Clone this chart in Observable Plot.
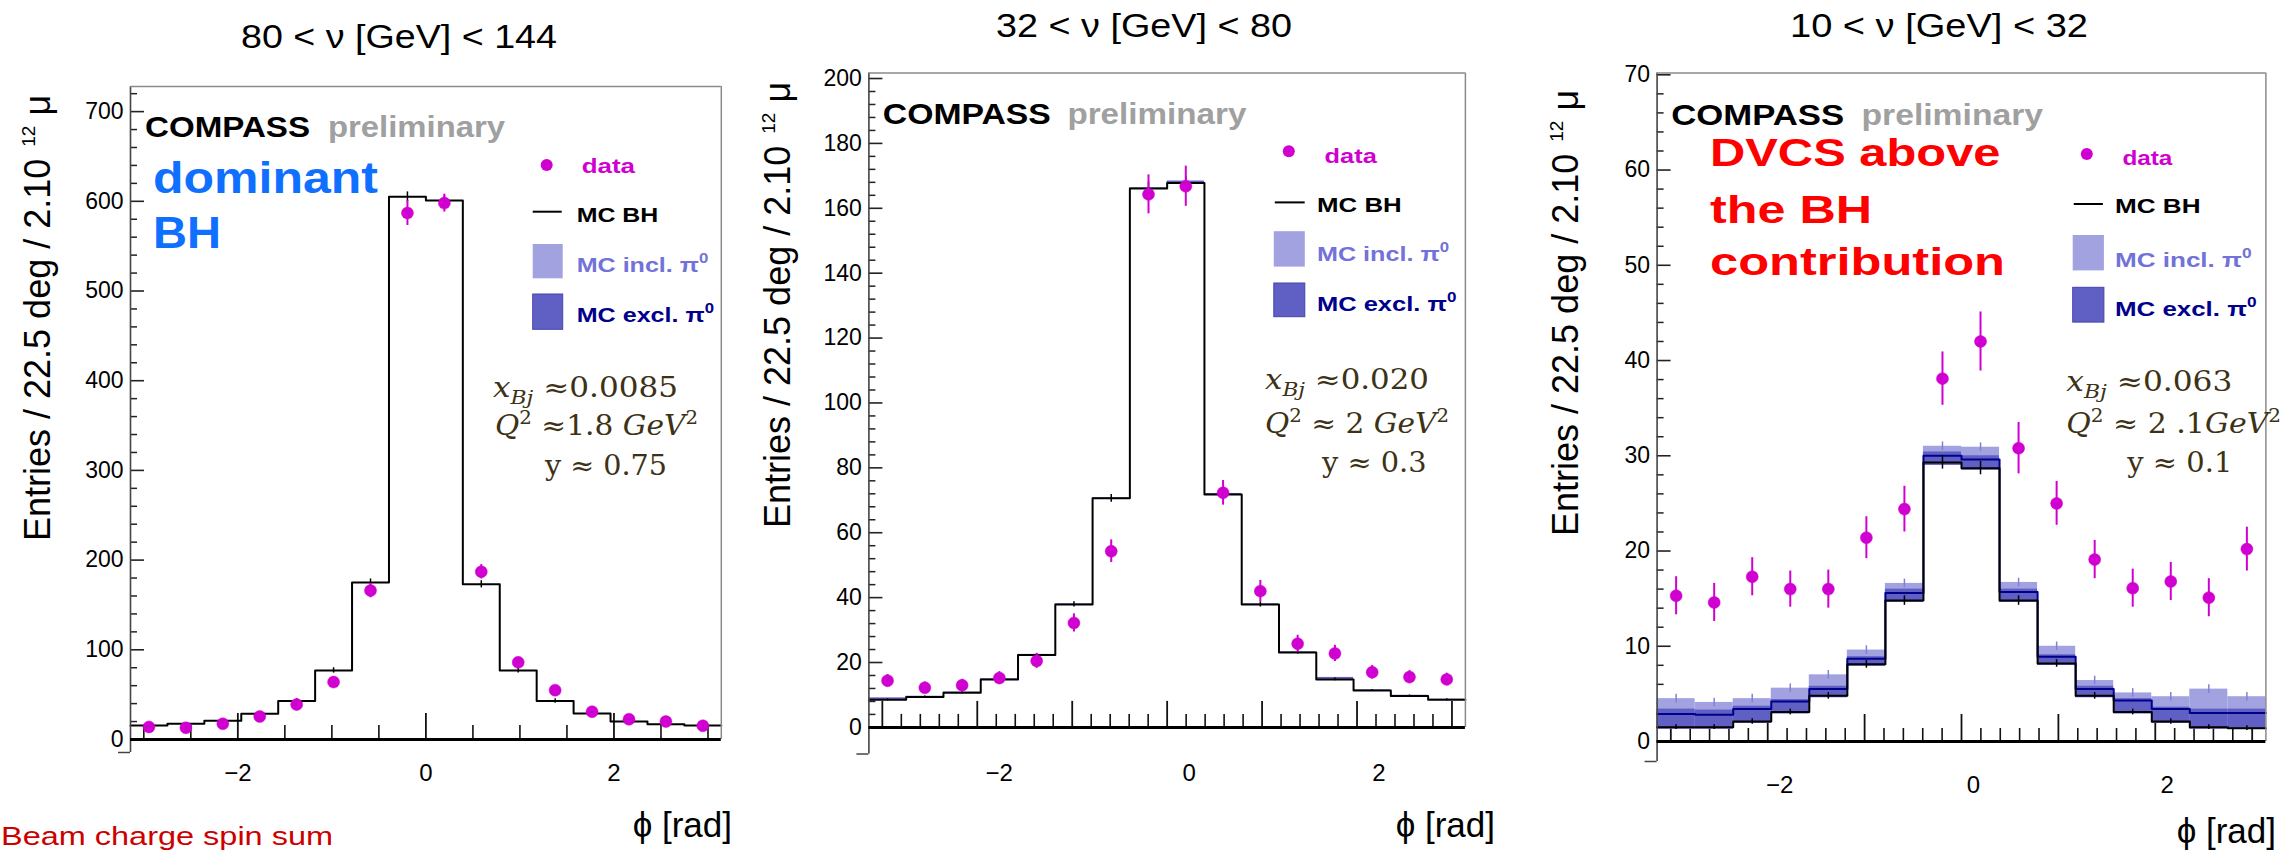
<!DOCTYPE html>
<html>
<head>
<meta charset="utf-8">
<script src="https://cdn.jsdelivr.net/npm/d3@7"></script>
<script src="https://cdn.jsdelivr.net/npm/@observablehq/plot@0.6"></script>
<style>
  html, body { margin: 0; padding: 0; background: #fff; width: 2285px; height: 853px; overflow: hidden; }
  #page { position: relative; width: 2285px; height: 853px; }
  .panel { position: absolute; top: 0; }
  #overlay { position: absolute; left: 0; top: 0; pointer-events: none; font-family: 'Liberation Sans', Arial, sans-serif; }
  .kin { font-family: 'DejaVu Serif', 'Liberation Serif', serif; font-size: 27px; fill: #3d3215; }
  .leg { font-weight: bold; font-size: 21px; }
</style>
</head>
<body>
<div id="page"></div>
<script>
const PI = Math.PI;
// 16 bins of 22.5 deg covering -pi .. pi
const phiEdges = d3.range(17).map(i => -PI + i * PI / 8);

// ---------- Panel 1 : 80 < nu < 144 ----------
const bh1    = [15.6, 17.5, 21, 28.6, 43, 77, 175, 605, 601, 173, 77, 43, 29, 20, 17, 15.5];
const mcErr1 = [1.5, 1.5, 1.5, 2, 2.5, 3, 4, 5.5, 5.5, 4, 3, 2.5, 2, 1.5, 1.5, 1.5];
const data1  = [14, 13, 17.5, 25.6, 39, 64, 166, 587, 598, 187, 86, 55, 31, 22.6, 20, 15.3];
const err1   = [3, 3, 3, 3.5, 4, 5, 8, 14, 10, 8, 5, 4, 3.5, 3, 3, 3];

// ---------- Panel 2 : 32 < nu < 80 ----------
const bh2     = [8.5, 9.4, 10.7, 14.8, 22.3, 37.9, 70.6, 166.1, 167.8, 71.8, 37.9, 23.1, 14.8, 11.4, 9.7, 8.5];
const exclHi2 = [9.1, 9.6, 10.9, 15.0, 22.5, 38.1, 70.8, 166.3, 168.4, 72.1, 38.1, 23.3, 15.4, 11.6, 9.9, 8.7];
const mcErr2  = [0.3, 0.3, 0.3, 0.4, 0.5, 0.8, 1.2, 2, 2, 1.2, 0.8, 0.5, 0.4, 0.3, 0.3, 0.3];
const data2   = [14.4, 12.2, 13, 15.2, 20.5, 32.2, 54.3, 164.3, 166.8, 72.3, 42, 25.8, 22.8, 17, 15.5, 14.8];
const err2    = [1.9, 1.8, 1.8, 2, 2.3, 2.8, 3.5, 6, 6.2, 3.8, 3.3, 2.6, 2.5, 2.1, 2, 1.9];

// ---------- Panel 3 : 10 < nu < 32 ----------
const bh3      = [1.5, 1.5, 2.1, 3.1, 4.8, 8.1, 14.8, 29.3, 28.7, 14.8, 8.2, 4.8, 3.1, 2.1, 1.5, 1.4];
const exclLo3  = [1.3, 1.3, 1.9, 2.9, 4.6, 7.9, 14.6, 29.0, 28.5, 14.6, 8.0, 4.6, 2.9, 1.9, 1.3, 1.3];
const exclHi3  = [3.4, 3.3, 3.7, 4.4, 5.8, 8.9, 16.0, 30.4, 30.0, 16.0, 9.1, 5.8, 4.5, 3.6, 3.4, 3.4];
const exclMid3 = [2.9, 2.8, 3.4, 4.2, 5.5, 8.7, 15.6, 30.0, 29.6, 15.7, 8.9, 5.5, 4.3, 3.4, 3.0, 3.0];
const inclHi3  = [4.5, 4.1, 4.5, 5.6, 7.0, 9.6, 16.6, 31.0, 30.9, 16.7, 10.0, 6.4, 5.1, 4.7, 5.5, 4.7];
const mcErr3   = [0.25, 0.25, 0.3, 0.3, 0.35, 0.4, 0.5, 0.7, 0.7, 0.5, 0.4, 0.35, 0.3, 0.3, 0.25, 0.25];
const data3    = [15.3, 14.6, 17.3, 16.0, 16.0, 21.4, 24.4, 38.1, 42.0, 30.8, 25.0, 19.1, 16.1, 16.8, 15.1, 20.2];
const err3     = [2.0, 2.0, 2.0, 1.9, 2.0, 2.2, 2.4, 2.8, 3.1, 2.7, 2.3, 2.0, 2.0, 2.0, 2.0, 2.3];

// tick labels
const xLabelTicks = [-2, 0, 2];
const yTicks1 = [0, 100, 200, 300, 400, 500, 600, 700];
const yTicks2 = [0, 20, 40, 60, 80, 100, 120, 140, 160, 180, 200];
const yTicks3 = [0, 10, 20, 30, 40, 50, 60, 70];

const MAGENTA = "#d000d0";
const LIGHT = "#a2a2e0";
const DARK = "#5f5fc4";
const NAVY = "#00008c";

const fmtX = d => (d < 0 ? "\u2212" : "") + Math.abs(d);

function minorTicks(max, step, majors) {
  return d3.range(0, Math.round(max / step) + 1).map(i => +(i * step).toFixed(4))
    .filter(v => v <= max && !majors.includes(v));
}

function makePanel(cfg) {
  const bins = d3.range(16).map(i => ({
    x1: phiEdges[i], x2: phiEdges[i + 1], xc: (phiEdges[i] + phiEdges[i + 1]) / 2,
    bh: cfg.bh[i], mcErr: cfg.mcErr[i], data: cfg.data[i], err: cfg.err[i],
    exclLo: cfg.exclLo ? cfg.exclLo[i] : null,
    exclHi: cfg.exclHi ? cfg.exclHi[i] : null,
    exclMid: cfg.exclMid ? cfg.exclMid[i] : null,
    inclHi: cfg.inclHi ? cfg.inclHi[i] : null
  }));
  const step = arr => [...arr.map((v, i) => ({x: phiEdges[i], y: v})), {x: phiEdges[16], y: arr[15]}];
  const plotW = cfg.frameR - cfg.frameL;
  const plotH = cfg.frameB - cfg.frameT;
  const zeroFromBottom = plotH * (0 - cfg.ymin) / (cfg.ymax - cfg.ymin);
  const yMinor = minorTicks(cfg.ymax, cfg.yMinorStep, cfg.yTicks);
  const xMinor = cfg.xMinor.filter(v => !cfg.xMajor.includes(v));

  const marks = [
    Plot.tickX(xMinor, {x: d => d, insetBottom: zeroFromBottom, insetTop: plotH - zeroFromBottom - cfg.minorLen, stroke: "#111", strokeWidth: 1.6}),
    Plot.tickX(cfg.xMajor, {x: d => d, insetBottom: zeroFromBottom, insetTop: plotH - zeroFromBottom - cfg.majorLen, stroke: "#111", strokeWidth: 1.8}),
    Plot.tickY(yMinor, {y: d => d, insetRight: plotW - 7, stroke: "#222", strokeWidth: 1.5}),
    Plot.tickY(cfg.yTicks, {y: d => d, insetRight: plotW - 14, stroke: "#222", strokeWidth: 1.6}),
    Plot.tickY([cfg.ymin], {y: d => d, insetLeft: -12, insetRight: plotW, stroke: "#444", strokeWidth: 1.5})
  ];
  if (cfg.inclHi) marks.push(Plot.rect(bins, {x1: "x1", x2: "x2", y1: d => d.exclLo ?? d.bh, y2: "inclHi", fill: LIGHT}));
  if (cfg.exclHi) marks.push(Plot.rect(bins, {x1: "x1", x2: "x2", y1: d => d.exclLo ?? d.bh, y2: "exclHi", fill: DARK}));
  if (cfg.inclHi) marks.push(Plot.ruleX(bins, {x: "xc", y1: d => d.inclHi - 0.45, y2: d => d.inclHi + 0.45, stroke: "#8080d8", strokeWidth: 1.5}));
  if (cfg.exclMid) marks.push(Plot.line(step(cfg.exclMid), {x: "x", y: "y", curve: "step-after", stroke: NAVY, strokeWidth: 2}));
  marks.push(
    Plot.line(step(cfg.bh), {x: "x", y: "y", curve: "step-after", stroke: "#000", strokeWidth: 2}),
    Plot.ruleX(bins, {x: "xc", y1: d => d.bh - d.mcErr, y2: d => d.bh + d.mcErr, stroke: "#000", strokeWidth: 1.5}),
    Plot.ruleX([-PI], {stroke: "#444", strokeWidth: 1.6}),
    Plot.ruleX([PI], {y1: 0, y2: cfg.ymax, stroke: "#8a8a8a", strokeWidth: 1.5}),
    Plot.ruleY([cfg.ymax], {stroke: "#8a8a8a", strokeWidth: 1.5}),
    Plot.ruleY([0], {stroke: "#000", strokeWidth: 3}),
    Plot.ruleX(bins, {x: "xc", y1: d => d.data - d.err, y2: d => d.data + d.err, stroke: MAGENTA, strokeWidth: 2}),
    Plot.dot(bins, {x: "xc", y: "data", r: 6, fill: MAGENTA, stroke: MAGENTA, strokeWidth: 0.5}),
    Plot.axisY({ticks: cfg.yTicks, tickSize: 0, tickPadding: 7, label: null, fontSize: 23, tickFormat: d => String(d)}),
    Plot.axisX({ticks: xLabelTicks, tickSize: 0, tickPadding: cfg.labelPad, dx: cfg.labelDx, label: null, fontSize: 24, tickFormat: fmtX})
  );

  const svg = Plot.plot({
    width: cfg.width,
    height: 853,
    marginLeft: cfg.frameL - cfg.left,
    marginRight: cfg.left + cfg.width - cfg.frameR,
    marginTop: cfg.frameT,
    marginBottom: 853 - cfg.frameB,
    x: {domain: [-PI, PI], label: null},
    y: {domain: [cfg.ymin, cfg.ymax], label: null},
    style: {fontFamily: "'Liberation Sans', Arial, sans-serif", fontSize: "23px", color: "#000", maxWidth: "none", overflow: "visible", background: "transparent"},
    marks
  });
  const div = document.createElement("div");
  div.className = "panel";
  div.style.left = cfg.left + "px";
  div.appendChild(svg);
  document.getElementById("page").appendChild(div);
}

makePanel({left: 0, width: 760, frameL: 130, frameR: 720.8, frameT: 86, frameB: 752, ymin: -14.5, ymax: 728,
  yTicks: yTicks1, yMinorStep: 20, xMajor: [-2, 0, 2], xMinor: d3.range(-6, 7).map(i => i / 2),
  majorLen: 26, minorLen: 14, labelPad: 11.6, labelDx: 0,
  bh: bh1, mcErr: mcErr1, data: data1, err: err1});

makePanel({left: 760, width: 760, frameL: 868.4, frameR: 1464.9, frameT: 72.5, frameB: 753.5, ymin: -8.2, ymax: 201.7,
  yTicks: yTicks2, yMinorStep: 4, xMajor: [-3, -2, -1, 0, 1, 2, 3], xMinor: d3.range(-15, 16).map(i => i / 5),
  majorLen: 26, minorLen: 13, labelPad: 9.6, labelDx: 22,
  bh: bh2, mcErr: mcErr2, data: data2, err: err2, exclHi: exclHi2});

makePanel({left: 1520, width: 765, frameL: 1656.6, frameR: 2265.4, frameT: 72.4, frameB: 761, ymin: -2.1, ymax: 70.2,
  yTicks: yTicks3, yMinorStep: 2, xMajor: [-3, -2, -1, 0, 1, 2, 3], xMinor: d3.range(-15, 16).map(i => i / 5),
  majorLen: 27, minorLen: 13, labelPad: 14.1, labelDx: 12,
  bh: bh3, mcErr: mcErr3, data: data3, err: err3, exclLo: exclLo3, exclHi: exclHi3, exclMid: exclMid3, inclHi: inclHi3});

// ---------- overlay text (titles, labels, legends, annotations) ----------
const overlay = `
<svg id="overlay" width="2285" height="853" xmlns="http://www.w3.org/2000/svg">
  <g font-size="32.5">
    <text x="241" y="48" textLength="316" lengthAdjust="spacingAndGlyphs">80 &lt; ν [GeV] &lt; 144</text>
    <text x="996" y="37" textLength="296" lengthAdjust="spacingAndGlyphs">32 &lt; ν [GeV] &lt; 80</text>
    <text x="1790" y="37" textLength="298" lengthAdjust="spacingAndGlyphs">10 &lt; ν [GeV] &lt; 32</text>
  </g>

  <g font-size="36">
    <text transform="translate(50,541) rotate(-90)">Entries / 22.5 deg / 2.10<tspan font-size="19" dx="12" dy="-15">12</tspan><tspan dx="10" dy="15">μ</tspan></text>
    <text transform="translate(790,528) rotate(-90)">Entries / 22.5 deg / 2.10<tspan font-size="19" dx="12" dy="-15">12</tspan><tspan dx="10" dy="15">μ</tspan></text>
    <text transform="translate(1578,536) rotate(-90)">Entries / 22.5 deg / 2.10<tspan font-size="19" dx="12" dy="-15">12</tspan><tspan dx="10" dy="15">μ</tspan></text>
  </g>

  <g font-size="35" text-anchor="end">
    <text x="732" y="837">ϕ [rad]</text>
    <text x="1495" y="837">ϕ [rad]</text>
    <text x="2276" y="843">ϕ [rad]</text>
  </g>

  <g font-weight="bold" font-size="29.5">
    <text x="145" y="136.7" textLength="165" lengthAdjust="spacingAndGlyphs">COMPASS</text>
    <text x="328" y="136.7" textLength="177" lengthAdjust="spacingAndGlyphs" fill="#a0a0a0">preliminary</text>
    <text x="882.8" y="124" textLength="168" lengthAdjust="spacingAndGlyphs">COMPASS</text>
    <text x="1067.4" y="124" textLength="179" lengthAdjust="spacingAndGlyphs" fill="#a0a0a0">preliminary</text>
    <text x="1671.2" y="125" textLength="173" lengthAdjust="spacingAndGlyphs">COMPASS</text>
    <text x="1861.5" y="125" textLength="181.5" lengthAdjust="spacingAndGlyphs" fill="#a0a0a0">preliminary</text>
  </g>

  <g font-weight="bold" font-size="44" fill="#0f6fff">
    <text x="153" y="193.3" textLength="225" lengthAdjust="spacingAndGlyphs">dominant</text>
    <text x="153" y="248.3" textLength="68" lengthAdjust="spacingAndGlyphs">BH</text>
  </g>
  <g font-weight="bold" font-size="38" fill="#ff0000">
    <text x="1710" y="166" textLength="290.5" lengthAdjust="spacingAndGlyphs">DVCS above</text>
    <text x="1710" y="223" textLength="162" lengthAdjust="spacingAndGlyphs">the BH</text>
    <text x="1710" y="275" textLength="295" lengthAdjust="spacingAndGlyphs">contribution</text>
  </g>

  <!-- legends -->
  <g class="leg">
    <circle cx="546.7" cy="165" r="6" fill="${MAGENTA}"/>
    <text x="581.7" y="173.3" textLength="53.3" lengthAdjust="spacingAndGlyphs" fill="${MAGENTA}">data</text>
    <line x1="532.7" x2="561.7" y1="211.7" y2="211.7" stroke="#000" stroke-width="2"/>
    <text x="576.7" y="221.7" textLength="81.6" lengthAdjust="spacingAndGlyphs">MC BH</text>
    <rect x="532.7" y="244" width="30" height="34.3" fill="${LIGHT}"/>
    <text x="576.7" y="271.7" textLength="131.6" lengthAdjust="spacingAndGlyphs" fill="#7272d8">MC incl. π<tspan font-size="14" dy="-9">0</tspan></text>
    <rect x="532.7" y="294" width="30" height="35.3" fill="${DARK}" stroke="#4444b0" stroke-width="1"/>
    <text x="576.7" y="321.7" textLength="137.3" lengthAdjust="spacingAndGlyphs" fill="${NAVY}">MC excl. π<tspan font-size="14" dy="-9">0</tspan></text>

    <circle cx="1288.8" cy="151.3" r="6" fill="${MAGENTA}"/>
    <text x="1324.6" y="163" textLength="52.2" lengthAdjust="spacingAndGlyphs" fill="${MAGENTA}">data</text>
    <line x1="1274.8" x2="1304.7" y1="202.4" y2="202.4" stroke="#000" stroke-width="2"/>
    <text x="1317.1" y="212.2" textLength="84.6" lengthAdjust="spacingAndGlyphs">MC BH</text>
    <rect x="1273.8" y="231.2" width="31" height="35.4" fill="${LIGHT}"/>
    <text x="1317" y="261.2" textLength="132" lengthAdjust="spacingAndGlyphs" fill="#7272d8">MC incl. π<tspan font-size="14" dy="-9">0</tspan></text>
    <rect x="1273.8" y="283" width="31" height="33.7" fill="${DARK}" stroke="#4444b0" stroke-width="1"/>
    <text x="1317" y="311.2" textLength="139.4" lengthAdjust="spacingAndGlyphs" fill="${NAVY}">MC excl. π<tspan font-size="14" dy="-9">0</tspan></text>

    <circle cx="2086.8" cy="154" r="6" fill="${MAGENTA}"/>
    <text x="2122.4" y="165" textLength="50" lengthAdjust="spacingAndGlyphs" fill="${MAGENTA}">data</text>
    <line x1="2073.7" x2="2102.9" y1="204" y2="204" stroke="#000" stroke-width="2"/>
    <text x="2115" y="213.3" textLength="85.5" lengthAdjust="spacingAndGlyphs">MC BH</text>
    <rect x="2072.7" y="235" width="31.2" height="35.4" fill="${LIGHT}"/>
    <text x="2115" y="266.6" textLength="136.7" lengthAdjust="spacingAndGlyphs" fill="#7272d8">MC incl. π<tspan font-size="14" dy="-9">0</tspan></text>
    <rect x="2072.7" y="287.3" width="31.2" height="34.8" fill="${DARK}" stroke="#4444b0" stroke-width="1"/>
    <text x="2115" y="315.6" textLength="141.6" lengthAdjust="spacingAndGlyphs" fill="${NAVY}">MC excl. π<tspan font-size="14" dy="-9">0</tspan></text>
  </g>

  <!-- kinematics -->
  <g class="kin">
    <text x="493" y="396.7" textLength="185" lengthAdjust="spacingAndGlyphs"><tspan font-style="italic">x</tspan><tspan font-style="italic" font-size="19" dy="7">Bj</tspan><tspan dy="-7"> ≈0.0085</tspan></text>
    <text x="495" y="435" textLength="203" lengthAdjust="spacingAndGlyphs"><tspan font-style="italic">Q</tspan><tspan font-size="18" dy="-11">2</tspan><tspan dy="11"> ≈1.8 </tspan><tspan font-style="italic">GeV</tspan><tspan font-size="18" dy="-11">2</tspan></text>
    <text x="545" y="475" textLength="122" lengthAdjust="spacingAndGlyphs">y ≈ 0.75</text>

    <text x="1265" y="389" textLength="164" lengthAdjust="spacingAndGlyphs"><tspan font-style="italic">x</tspan><tspan font-style="italic" font-size="19" dy="7">Bj</tspan><tspan dy="-7"> ≈0.020</tspan></text>
    <text x="1265" y="432.5" textLength="184" lengthAdjust="spacingAndGlyphs"><tspan font-style="italic">Q</tspan><tspan font-size="18" dy="-11">2</tspan><tspan dy="11"> ≈ 2 </tspan><tspan font-style="italic">GeV</tspan><tspan font-size="18" dy="-11">2</tspan></text>
    <text x="1322" y="472" textLength="104.6" lengthAdjust="spacingAndGlyphs">y ≈ 0.3</text>

    <text x="2066.3" y="390.6" textLength="166" lengthAdjust="spacingAndGlyphs"><tspan font-style="italic">x</tspan><tspan font-style="italic" font-size="19" dy="7">Bj</tspan><tspan dy="-7"> ≈0.063</tspan></text>
    <text x="2066.3" y="432.5" textLength="214.7" lengthAdjust="spacingAndGlyphs"><tspan font-style="italic">Q</tspan><tspan font-size="18" dy="-11">2</tspan><tspan dy="11"> ≈ 2 .1</tspan><tspan font-style="italic">GeV</tspan><tspan font-size="18" dy="-11">2</tspan></text>
    <text x="2127.3" y="472" textLength="105" lengthAdjust="spacingAndGlyphs">y ≈ 0.1</text>
  </g>

  <text x="1" y="845" font-size="26" textLength="332" lengthAdjust="spacingAndGlyphs" fill="#cc0000">Beam charge spin sum</text>
</svg>`;
document.getElementById("page").insertAdjacentHTML("beforeend", overlay);
</script>
</body>
</html>
